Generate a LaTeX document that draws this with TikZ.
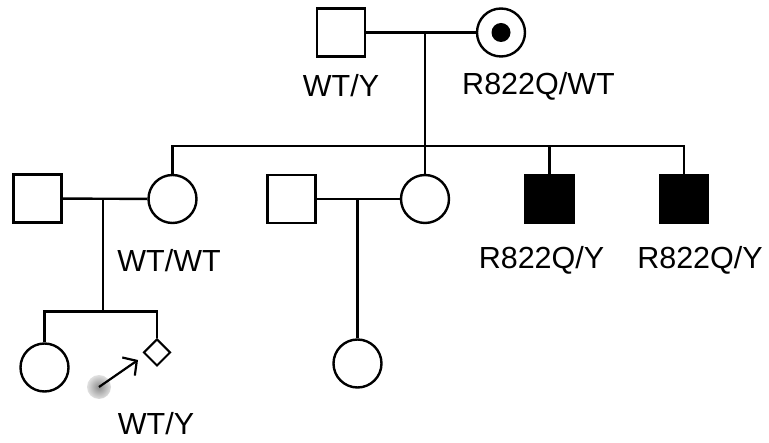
\documentclass[tikz,border=0pt]{standalone}
\usepackage{fontspec}
\setmainfont{Liberation Sans}
\usetikzlibrary{arrows.meta,shapes.geometric}
\tikzset{
  male/.style={draw,rectangle,minimum size=48pt,inner sep=0pt,line width=2.4pt},
  female/.style={draw,circle,minimum size=48pt,inner sep=0pt,line width=2.4pt},
  unknown/.style={draw,diamond,minimum size=27pt,inner sep=0pt,line width=2pt},
  affected/.style={fill=black},
  ball/.style={circle,minimum size=24pt,inner sep=0pt,shading=radial,inner color=black!45,outer color=black!12},
  geno/.style={font=\fontsize{30.5}{34}\selectfont,inner sep=0pt},
  link/.style={line width=2.4pt},
  arrow/.style={-{Straight Barb[length=10pt,width=22pt]},line width=2.2pt},
}
\begin{document}
\begin{tikzpicture}[x=1pt,y=-1pt]
  \useasboundingbox (0,0) rectangle (769,443);
  % generation I
  \node[male] (gf) at (341,32.5) {};
  \node[female] (gm) at (501,32.5) {};
  \fill (gm.center) circle (9.5);
  \node[geno] (gfl) at (341,86) {WT/Y};
  \node[geno] (gml) at (538.5,86) {R822Q/WT};
  % generation II
  \node[male] (h1) at (37.5,198.5) {};
  \node[female] (d1) at (172.5,199) {};
  \node[male] (h2) at (291.5,199) {};
  \node[female] (d2) at (425,199) {};
  \node[male,affected] (s1) at (549.5,199) {};
  \node[male,affected] (s2) at (684,199) {};
  \node[geno] (d1l) at (169,261) {WT/WT};
  \node[geno] (s1l) at (541.5,260) {R822Q/Y};
  \node[geno] (s2l) at (700,260) {R822Q/Y};
  % generation III
  \node[female] (c1) at (44.5,367.5) {};
  \node[unknown] (c2) at (157,352.5) {};
  \node[female] (c3) at (357.5,363.5) {};
  \node[ball] (ball) at (99,387) {};
  \coordinate (tip) at (138,360);
  \node[geno] (c2l) at (156,424) {WT/Y};
  % couples and lines of descent
  \coordinate (m1) at (425,32.5);
  \coordinate (sib1) at (425,146);
  \draw[link] (gf) -- (gm);
  \draw[link] (m1) -- (sib1);
  \draw[link] (d1.north) |- (s2.north |- sib1) -- (s2.north);
  \draw[link] (d2.north) -- (d2.north |- sib1);
  \draw[link] (s1.north) -- (s1.north |- sib1);
  \coordinate (m2) at (103,199);
  \coordinate (sib2) at (103,311.5);
  \draw[link] (h1) -- (d1);
  \draw[link] (m2) -- (sib2);
  \draw[link] (c1.north) |- (sib2) -| (c2.north);
  \coordinate (m3) at (357.5,199);
  \draw[link] (h2) -- (d2);
  \draw[link] (m3) -- (c3.north);
  \draw[arrow] (ball.center) -- (tip);
\end{tikzpicture}
\end{document}
